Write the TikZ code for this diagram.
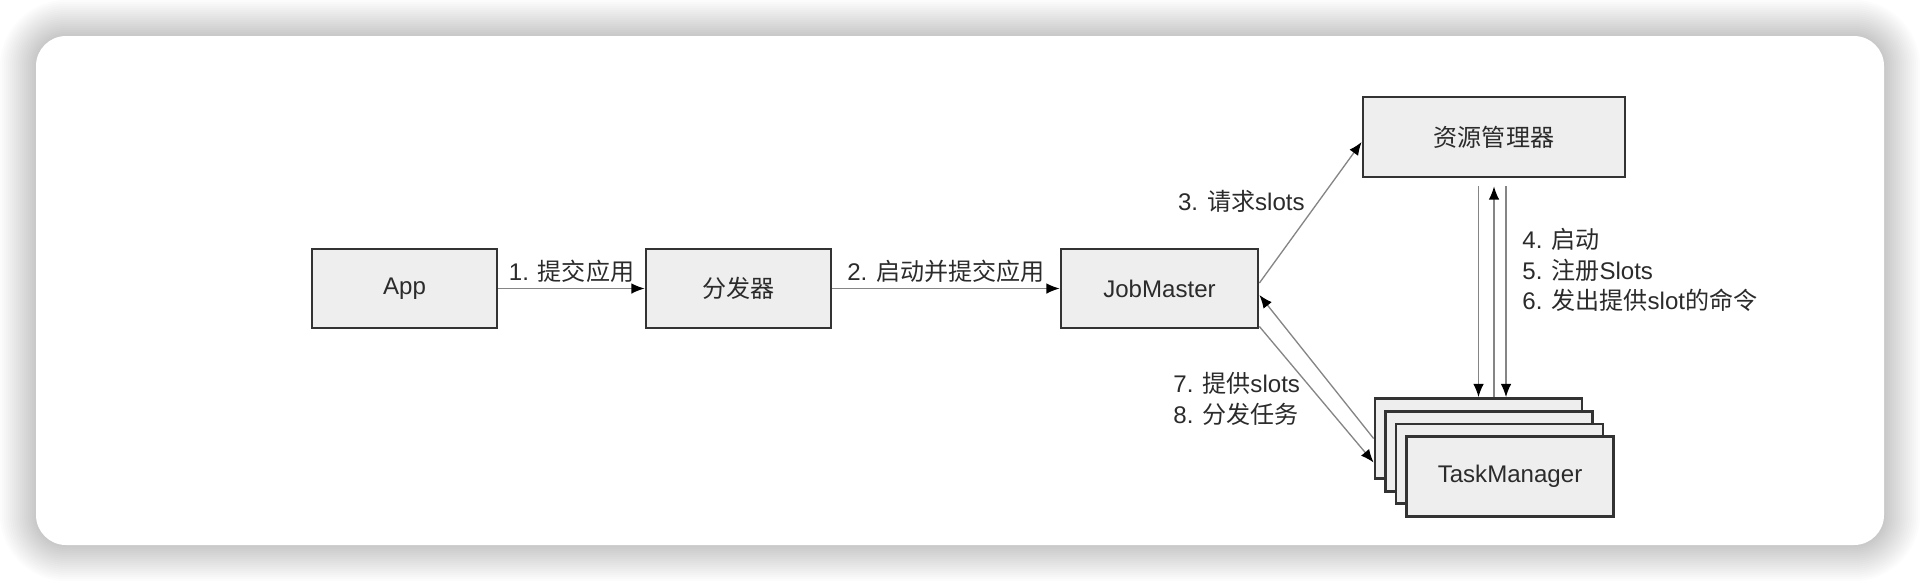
\documentclass[tikz,border=0pt]{standalone}
\usepackage{fontspec}
\setmainfont{Liberation Sans}
\newfontfamily\cjkfont{Noto Sans CJK SC}
\usepackage{tikz}
\usetikzlibrary{positioning,arrows.meta}
\definecolor{boxFill}{HTML}{EEEEEE}
\definecolor{boxLine}{HTML}{333333}
\definecolor{lineGray}{HTML}{858585}
\definecolor{txtGray}{HTML}{2B2B2B}
\newcommand{\zh}[1]{{\cjkfont #1}}
\newcommand{\diagfont}{\fontsize{13.7}{17.4}\selectfont}
\tikzset{
  procbox/.style={draw=boxLine, line width=1.6pt, fill=boxFill, text=txtGray,
                  font=\diagfont, minimum height=1.58cm, inner sep=0pt},
  stackbox/.style={procbox, minimum width=4.14cm, minimum height=1.6cm},
  msglabel/.style={font=\diagfont, text=txtGray, inner sep=0pt},
  flowarrow/.style={-{Latex[length=7.5pt, width=6pt, color=black]},
                    lineGray, line width=0.75pt},
}

\begin{document}
\begin{tikzpicture}[x=0.02cm, y=-0.02cm]
% Row y-position (px, downwards)
\def\yRow{288.5}
\def\xApp{404.5}   \def\xDist{738.5}   \def\xJob{1159.5}

%% Page and card with soft shadow
\fill[white] (0,0) rectangle (1920,582);
\useasboundingbox (0,0) rectangle (1920,582);
\foreach \i in {1,...,18} {
  \fill[black, opacity=0.012, rounded corners={0.6cm+0.04cm*\i}]
    (36-2*\i, 36-2*\i) rectangle (1884+2*\i, 545+2*\i);
}
\fill[white, rounded corners=0.6cm] (36,36) rectangle (1884,545);

%% Main row
\node[procbox, minimum width=3.7cm]  (app)  at (\xApp, \yRow)  {App};
\node[procbox, minimum width=3.7cm]  (dist) at (\xDist, \yRow) {\zh{分发器}};
\node[procbox, minimum width=3.94cm] (jm)   at (\xJob, \yRow)  {JobMaster};

%% Resource manager
\node[procbox, minimum width=5.24cm, minimum height=1.6cm] (rm) at (1494, 137) {\zh{资源管理器}};

%% TaskManager stack
\node[stackbox] (tm1) at (1478.5, 438.5) {};
\node[stackbox] (tm2) at ([shift={(10.5,12.7)}]tm1) {};
\node[stackbox] (tm3) at ([shift={(10.5,12.7)}]tm2) {};
\node[stackbox] (tm4) at ([shift={(10.5,12.7)}]tm3) {TaskManager};

%% Messages along the row
\draw[flowarrow] (app.east) -- node[msglabel, above=3pt] {1. \zh{提交应用}} (dist.west);
\draw[flowarrow] (dist.east) -- node[msglabel, above=3pt] {2. \zh{启动并提交应用}} (jm.west);

%% JobMaster <-> resource manager / TaskManager
\draw[flowarrow] ([shift={(0,-5.5)}]jm.east) -- ([shift={(0,5)}]rm.west);
\draw[flowarrow] (tm1.west) -- ([shift={(0,6.5)}]jm.east);
\draw[flowarrow] ([shift={(0,38)}]jm.east) -- ([shift={(0,24)}]tm1.west);

%% Resource manager <-> TaskManager
\coordinate (rmgap)  at ([shift={(0,8)}]rm.south);
\coordinate (rmgapR) at ([shift={(12,8)}]rm.south);
\draw[flowarrow] (rmgap -| tm1.north) -- (tm1.north);
\draw[flowarrow] (rmgap |- tm1.north) -- (rmgap);
\draw[flowarrow] (rmgapR) -- (rmgapR |- tm1.north);

%% Labels
\node[msglabel, anchor=east] (lreq) at (1305, 201) {3. \zh{请求}slots};
\node[msglabel, anchor=west, align=left] (lrm) at (1522, 270)
  {4. \zh{启动}\\5. \zh{注册}Slots\\6. \zh{发出提供}slot\zh{的命令}};
\node[msglabel, anchor=west, align=left] (ltm) at (1173, 399)
  {7. \zh{提供}slots\\8. \zh{分发任务}};
\end{tikzpicture}
\end{document}
